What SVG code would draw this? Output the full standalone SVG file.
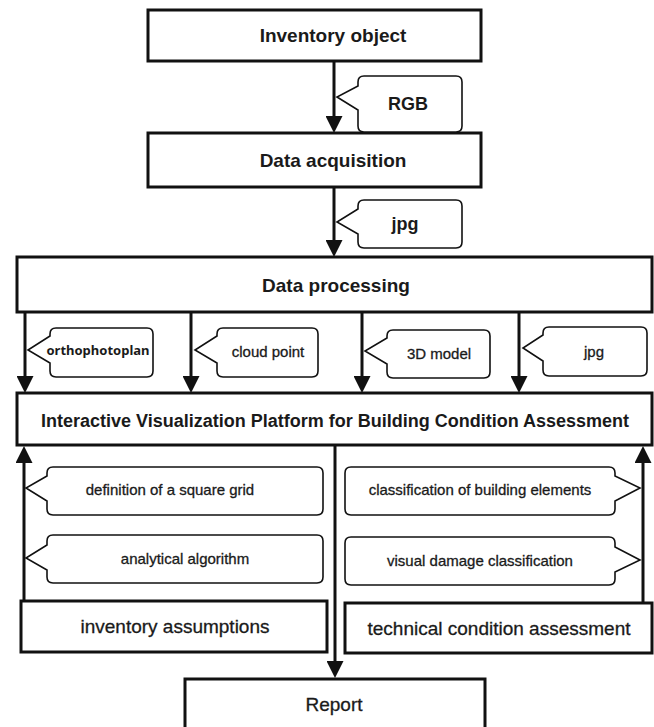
<svg xmlns="http://www.w3.org/2000/svg" width="654" height="727" viewBox="0 0 654 727">
  <style>
    .box { fill: #ffffff; stroke: #111111; stroke-width: 3; }
    .note { fill: #ffffff; stroke: #111111; stroke-width: 1.6; stroke-linejoin: miter; }
    .flow { fill: none; stroke: #111111; stroke-width: 3; }
    .title { font-family: "Liberation Sans", Arial, sans-serif; font-weight: bold; font-size: 19px; fill: #1a1a1a; text-anchor: middle; }
    .label { font-family: "Liberation Sans", Arial, sans-serif; font-size: 19px; fill: #1a1a1a; stroke: #1a1a1a; stroke-width: 0.3; text-anchor: middle; }
    .tag { font-family: "Liberation Sans", Arial, sans-serif; font-size: 15px; fill: #1a1a1a; stroke: #1a1a1a; stroke-width: 0.3; text-anchor: middle; }
    .tagbig { font-family: "Liberation Sans", Arial, sans-serif; font-weight: bold; font-size: 18px; fill: #1a1a1a; text-anchor: middle; }
    .tagsmall { font-family: "Noto Sans", "Liberation Sans", sans-serif; font-weight: bold; font-size: 13px; fill: #1a1a1a; text-anchor: middle; }
  </style>
  <defs>
    <marker id="head" viewBox="0 0 17 17" markerUnits="userSpaceOnUse" markerWidth="17" markerHeight="17" refX="8" refY="8.5" orient="auto">
      <path d="M0,0 L17,8.5 L0,17 Z" fill="#111111"/>
    </marker>
  </defs>

  <!-- connectors -->
  <g id="connectors">
    <line class="flow" x1="334" y1="61" x2="334" y2="124" marker-end="url(#head)"/>
    <line class="flow" x1="334" y1="187" x2="334" y2="248" marker-end="url(#head)"/>
    <line class="flow" x1="25" y1="312" x2="25" y2="384" marker-end="url(#head)"/>
    <line class="flow" x1="191" y1="312" x2="191" y2="384" marker-end="url(#head)"/>
    <line class="flow" x1="362" y1="312" x2="362" y2="384" marker-end="url(#head)"/>
    <line class="flow" x1="519" y1="312" x2="519" y2="384" marker-end="url(#head)"/>
    <line class="flow" x1="24" y1="601" x2="24" y2="455" marker-end="url(#head)"/>
    <line class="flow" x1="643" y1="603" x2="643" y2="455" marker-end="url(#head)"/>
    <line class="flow" x1="335" y1="445" x2="335" y2="669" marker-end="url(#head)"/>
  </g>

  <!-- process boxes -->
  <g id="inventory-object">
    <rect class="box" x="148" y="10" width="333" height="51"/>
    <text class="title" x="333" y="42">Inventory object</text>
  </g>
  <g id="data-acquisition">
    <rect class="box" x="148" y="133" width="333" height="54"/>
    <text class="title" x="333" y="167">Data acquisition</text>
  </g>
  <g id="data-processing">
    <rect class="box" x="17" y="257" width="635" height="55"/>
    <text class="title" x="336" y="292">Data processing</text>
  </g>
  <g id="platform">
    <rect class="box" x="17" y="393" width="635" height="52"/>
    <text class="title" x="335" y="427" style="font-size:18px">Interactive Visualization Platform for Building Condition Assessment</text>
  </g>
  <g id="inventory-assumptions">
    <rect class="box" x="21" y="601" width="306" height="51"/>
    <text class="label" x="175" y="633">inventory assumptions</text>
  </g>
  <g id="technical-condition">
    <rect class="box" x="345" y="603" width="307" height="50"/>
    <text class="label" x="499" y="635">technical condition assessment</text>
  </g>
  <g id="report">
    <rect class="box" x="185" y="679" width="300" height="60"/>
    <text class="label" x="334" y="711">Report</text>
  </g>

  <!-- callouts -->
  <g id="note-rgb">
    <path class="note" d="M364,76 H456 Q462,76 462,82 V126 Q462,132 456,132 H364 Q358,132 358,126 V110 L337,97 L358,86 V82 Q358,76 364,76 Z"/>
    <text class="tagbig" x="408" y="110">RGB</text>
  </g>
  <g id="note-jpg-top">
    <path class="note" d="M364,200 H456 Q462,200 462,206 V242 Q462,248 456,248 H364 Q358,248 358,242 V234 L337,222 L358,209 V206 Q358,200 364,200 Z"/>
    <text class="tagbig" x="405" y="230">jpg</text>
  </g>
  <g id="note-orthophotoplan">
    <path class="note" d="M56,328 H147 Q153,328 153,334 V371 Q153,377 147,377 H56 Q50,377 50,371 V363 L28,350 L50,336 V334 Q50,328 56,328 Z"/>
    <text class="tagsmall" x="98" y="355">orthophotoplan</text>
  </g>
  <g id="note-cloud-point">
    <path class="note" d="M223,328 H312 Q318,328 318,334 V371 Q318,377 312,377 H223 Q217,377 217,371 V363 L195,350 L217,336 V334 Q217,328 223,328 Z"/>
    <text class="tag" x="268" y="357">cloud point</text>
  </g>
  <g id="note-3d-model">
    <path class="note" d="M393,330 H484 Q490,330 490,336 V372 Q490,378 484,378 H393 Q387,378 387,372 V364 L365,351 L387,338 V336 Q387,330 393,330 Z"/>
    <text class="tag" x="439" y="359">3D model</text>
  </g>
  <g id="note-jpg">
    <path class="note" d="M549,327 H641 Q647,327 647,333 V370 Q647,376 641,376 H549 Q543,376 543,370 V361 L523,348 L543,335 V333 Q543,327 549,327 Z"/>
    <text class="tag" x="594" y="357">jpg</text>
  </g>
  <g id="note-square-grid">
    <path class="note" d="M53,467 H317 Q323,467 323,473 V509 Q323,515 317,515 H53 Q47,515 47,509 V501 L26,488 L47,476 V473 Q47,467 53,467 Z"/>
    <text class="tag" x="170" y="495">definition of a square grid</text>
  </g>
  <g id="note-algorithm">
    <path class="note" d="M53,535 H317 Q323,535 323,541 V577 Q323,583 317,583 H53 Q47,583 47,577 V570 L26,558 L47,545 V541 Q47,535 53,535 Z"/>
    <text class="tag" x="185" y="564">analytical algorithm</text>
  </g>
  <g id="note-building-elements">
    <path class="note" d="M351,467 H609 Q615,467 615,473 V476 L640,488 L615,501 V509 Q615,515 609,515 H351 Q345,515 345,509 V473 Q345,467 351,467 Z"/>
    <text class="tag" x="480" y="495">classification of building elements</text>
  </g>
  <g id="note-damage">
    <path class="note" d="M351,537 H609 Q615,537 615,543 V547 L640,560 L615,572 V579 Q615,585 609,585 H351 Q345,585 345,579 V543 Q345,537 351,537 Z"/>
    <text class="tag" x="480" y="566">visual damage classification</text>
  </g>
</svg>
